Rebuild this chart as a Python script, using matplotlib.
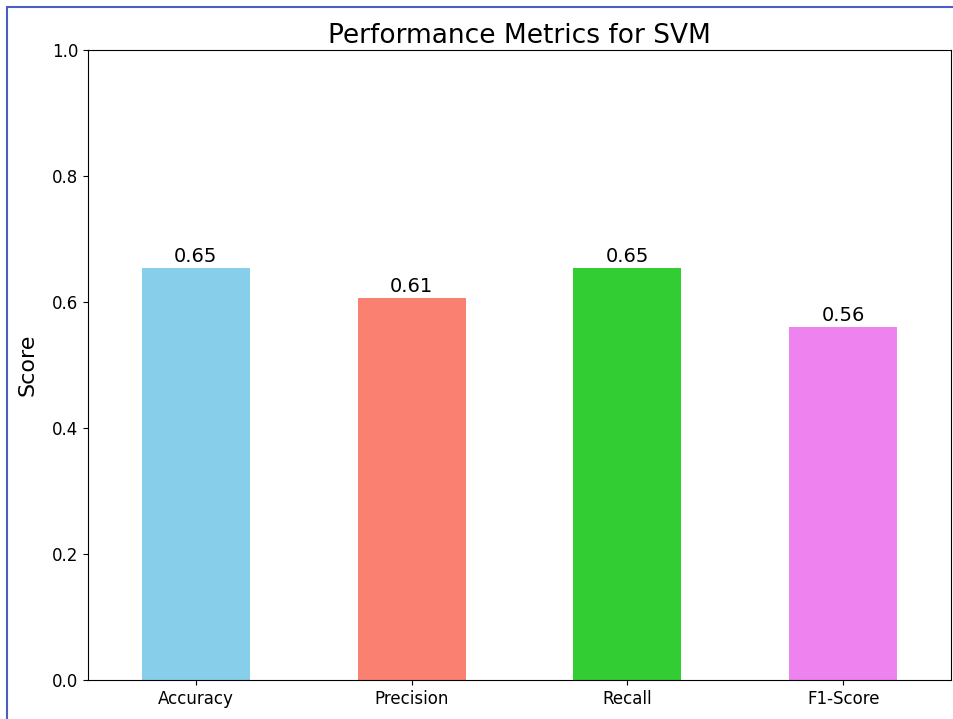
import matplotlib
matplotlib.use('Agg')
import matplotlib.pyplot as plt
from matplotlib.patches import Rectangle

# metric names and their scores
metrics = ['Accuracy', 'Precision', 'Recall', 'F1-Score']
scores = [0.654, 0.606, 0.654, 0.561]
colors = ['skyblue', 'salmon', 'limegreen', 'violet']

fig = plt.figure(figsize=(9.54, 7.19), dpi=100)
ax = fig.add_axes([0.0922, 0.0542, 0.9047, 0.8763])

bars = ax.bar(range(len(metrics)), scores, width=0.5, color=colors)
ax.set_xlim(-0.5, len(metrics) - 0.5)
ax.set_ylim(0, 1.0)
ax.set_xticks(range(len(metrics)))
ax.set_xticklabels(metrics)
ax.tick_params(labelsize=12)

for b, s in zip(bars, scores):
    ax.text(b.get_x() + b.get_width() / 2, b.get_height() + 0.003, f'{s:.2f}',
            ha='center', va='bottom', fontsize=14)

ax.set_title('Performance Metrics for SVM', fontsize=19, pad=5)
ax.set_ylabel('Score', fontsize=16, labelpad=10)

# screenshot frame
fig.patches.append(Rectangle((7 / 954, -0.1), 1.1, 1.1 - 6.5 / 719,
                             transform=fig.transFigure, fill=False,
                             edgecolor='#4a5fc1', linewidth=1.5))

fig.savefig('out.png', dpi=100)
